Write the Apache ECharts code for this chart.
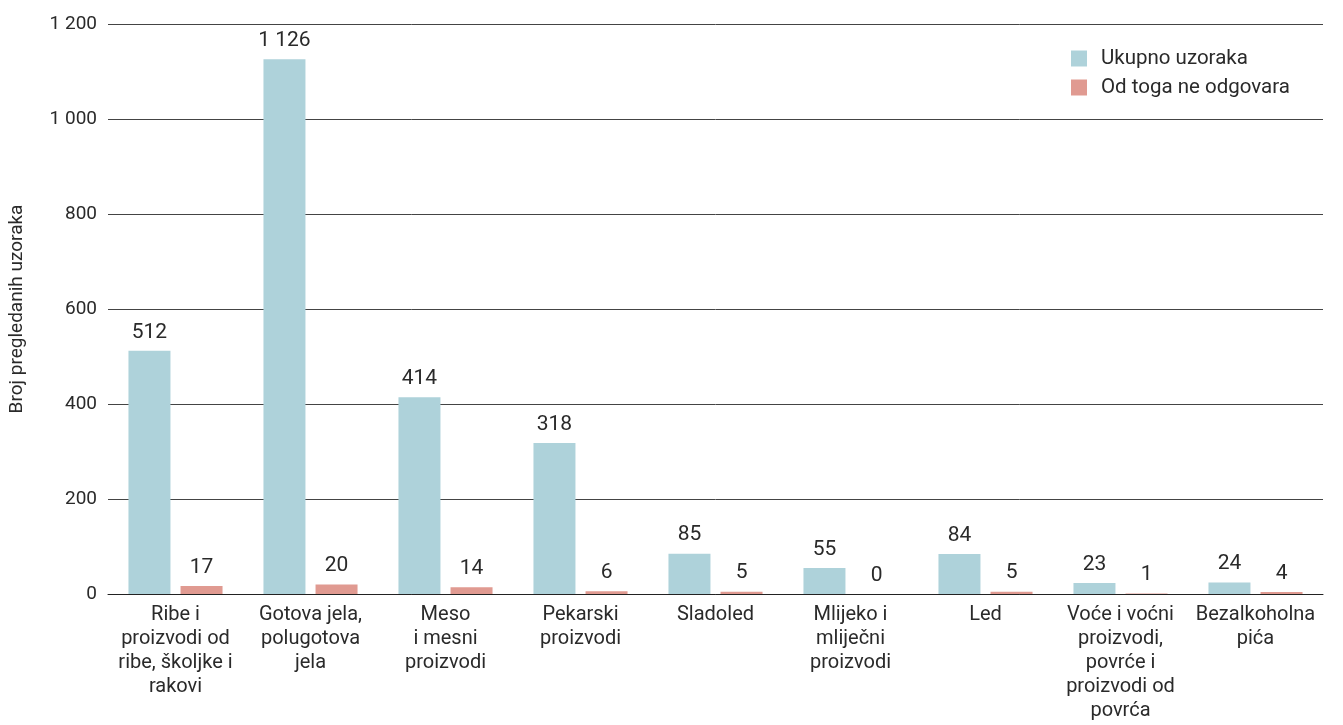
<!DOCTYPE html>
<html>
<head>
<meta charset="utf-8">
<script src="https://cdn.jsdelivr.net/npm/echarts@6/dist/echarts.min.js"></script>
<style>
  html, body { margin: 0; padding: 0; background: #fff; }
  #chart { width: 1343px; height: 725px; }
</style>
</head>
<body>
<div id="chart"></div>
<script>
const kategorije = [
  "Ribe i\nproizvodi od\nribe, školjke i\nrakovi",
  "Gotova jela,\npolugotova\njela",
  "Meso\ni mesni\nproizvodi",
  "Pekarski\nproizvodi",
  "Sladoled",
  "Mlijeko i\nmliječni\nproizvodi",
  "Led",
  "Voće i voćni\nproizvodi,\npovrće i\nproizvodi od\npovrća",
  "Bezalkoholna\npića"
];
const ukupno = [512, 1126, 414, 318, 85, 55, 84, 23, 24];
const neOdgovara = [17, 20, 14, 6, 5, 0, 5, 1, 4];

// razmak za tisućice: "1 200"
const fmt = (v) => String(v).replace(/\B(?=(\d{3})+(?!\d))/g, " ");

const font = "Roboto";
const tekst = "#2a2a2a";
const myChart = echarts.init(document.getElementById("chart"));

const labelTop = {
  show: true,
  position: "top",
  distance: 8,
  fontSize: 21,
  color: tekst,
  fontFamily: font,
  formatter: (p) => fmt(p.value),
};

const option = {
  animation: false,
  textStyle: { fontFamily: font },
  grid: { left: 108, right: 20, top: 24, bottom: 131, outerBoundsMode: "none" },
  legend: {
    orient: "vertical",
    left: 1066,
    top: 43,
    itemWidth: 16,
    itemHeight: 16,
    itemGap: 8,
    icon: "rect",
    textStyle: { fontSize: 20.5, color: tekst, fontFamily: font, padding: [0, 0, 0, 9] },
  },
  xAxis: {
    type: "category",
    data: kategorije,
    axisLine: { lineStyle: { color: "#222", width: 1 } },
    axisTick: { show: false },
    axisLabel: {
      interval: 0,
      fontSize: 20,
      lineHeight: 24,
      color: tekst,
      margin: 9,
      fontFamily: font,
    },
  },
  yAxis: {
    type: "value",
    min: 0,
    max: 1200,
    interval: 200,
    name: "Broj pregledanih uzoraka",
    nameLocation: "middle",
    nameGap: 81,
    nameTextStyle: { fontSize: 19, color: tekst, fontFamily: font },
    axisLine: { show: false },
    axisTick: { show: false },
    axisLabel: {
      fontSize: 19,
      color: tekst,
      margin: 11,
      formatter: fmt,
      fontFamily: font,
    },
    splitLine: { lineStyle: { color: "#444", width: 1 } },
  },
  series: [
    {
      name: "Ukupno uzoraka",
      type: "bar",
      data: ukupno,
      barWidth: 42,
      barGap: "24%",
      itemStyle: { color: "#aed2da" },
      label: labelTop,
    },
    {
      name: "Od toga ne odgovara",
      type: "bar",
      data: neOdgovara,
      barWidth: 42,
      itemStyle: { color: "#e09a91" },
      label: labelTop,
    },
  ],
};

myChart.setOption(option);
</script>
</body>
</html>
